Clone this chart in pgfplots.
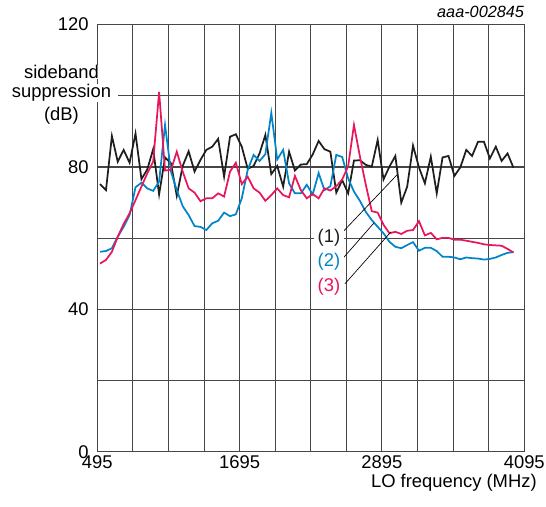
\documentclass[border=0pt]{standalone}
\usepackage{pgfplots}
\pgfplotsset{compat=1.18}
\usepackage{pgfplotstable}
\usepackage{fontspec}
\setmainfont{Liberation Sans}

\definecolor{curveblack}{RGB}{30,30,30}
\definecolor{curveblue}{RGB}{0,133,200}
\definecolor{curvered}{RGB}{232,22,90}
\definecolor{gridgray}{RGB}{70,70,70}

% LO frequency (MHz), sideband suppression (dB) for curves (1) (2) (3)
\pgfplotstableread{
x     c1    c2    c3
518   75.2  56.2  52.9
568   73.5  56.4  53.9
618   88.7  57.2  56.2
667   81.5  60.4  60.4
717   84.8  63.2  64.0
767   81.2  66.5  67.0
817   89.4  74.3  70.7
867   76.6  75.6  74.5
916   79.3  74.0  78.2
966   85.0  73.3  81.5
1016  72.3  75.9  101.1
1066  82.7  91.8  79.0
1116  81.0  78.7  79.2
1165  71.9  73.5  84.3
1215  80.3  69.0  78.7
1265  84.4  66.5  74.0
1315  78.7  63.4  72.8
1365  82.0  63.2  70.4
1414  84.8  62.3  71.2
1464  85.7  64.2  71.2
1514  87.9  64.9  72.6
1564  77.3  67.2  71.7
1614  88.5  66.2  78.7
1663  89.2  66.7  81.2
1713  85.7  71.2  75.2
1763  79.5  79.2  77.3
1813  80.3  83.4  74.0
1863  83.8  81.7  72.8
1912  89.0  83.6  70.5
1962  78.0  95.2  72.1
2012  80.3  82.1  74.0
2062  74.5  84.8  72.1
2112  84.3  75.4  71.5
2161  79.0  72.6  77.5
2211  80.7  72.6  73.5
2261  80.8  75.0  71.2
2311  83.5  72.3  72.4
2361  87.3  78.3  71.2
2410  85.0  73.5  74.0
2460  84.3  74.6  73.4
2510  72.8  83.4  74.6
2560  76.3  82.8  76.5
2610  72.6  76.8  80.2
2659  81.8  73.1  91.8
2709  81.9  70.5  83.0
2759  80.6  67.4  75.0
2809  80.1  65.1  67.6
2859  87.6  63.2  67.2
2908  76.5  61.4  63.8
2958  80.1  59.0  61.4
3008  83.1  57.6  61.8
3058  70.0  57.2  61.2
3108  74.5  58.1  62.1
3157  86.0  58.9  62.3
3207  79.9  56.5  64.8
3257  75.4  57.3  60.8
3307  82.9  57.3  61.5
3357  72.6  56.4  59.7
3406  82.7  54.8  60.1
3456  83.1  54.8  60.1
3506  77.5  54.6  59.6
3556  79.9  54.1  59.6
3606  84.8  54.6  59.3
3655  83.1  54.4  59.0
3705  87.1  54.3  58.7
3755  87.1  54.0  58.3
3805  82.4  54.2  58.1
3855  85.7  54.6  58.0
3904  81.7  55.3  57.9
3954  83.8  55.9  57.0
4004  79.8  56.1  56.0
}\datatable

\begin{document}
\begin{tikzpicture}[font=\fontsize{13.8}{16}\selectfont]
\begin{axis}[
    name=ax,
    scale only axis,
    width=320.25pt,
    height=320.6pt,
    xmin=495, xmax=4095,
    ymin=0, ymax=120,
    xtick={495,1695,2895,4095},
    xticklabels={495,1695,2895,4095},
    minor xtick={795,1095,1395,1995,2295,2595,3195,3495,3795},
    ytick={0,40,80,120},
    yticklabels={0,40,80,120},
    minor ytick={20,60,100},
    grid=both,
    major grid style={draw=gridgray, line width=0.8pt},
    minor grid style={draw=gridgray, line width=0.8pt},
    axis line style={draw=gridgray, line width=0.8pt},
    major tick length=0pt,
    minor tick length=0pt,
    xticklabel style={yshift=0.5pt},
    yticklabel style={xshift=-3pt},
    clip=false,
]
\addplot[curveblack, line width=1.3pt] table[x=x, y=c1] {\datatable};
\addplot[curveblue, line width=1.3pt] table[x=x, y=c2] {\datatable};
\addplot[curvered, line width=1.3pt] table[x=x, y=c3] {\datatable};

% leader lines to the curve labels
\draw[black, line width=0.5pt] (axis cs:2566,61.8) -- (axis cs:3022,77.8);
\draw[black, line width=0.5pt] (axis cs:2575,54.7) -- (axis cs:2828,64.3);
\draw[black, line width=0.5pt] (axis cs:2583,47.2) -- (axis cs:2971,61.8);
\node[fill=white, inner xsep=3pt, inner ysep=1pt, text=curveblack] at (axis cs:2448,60.1) {(1)};
\node[fill=white, inner xsep=3pt, inner ysep=1pt, text=curveblue] at (axis cs:2448,53.3) {(2)};
\node[fill=white, inner xsep=3pt, inner ysep=1pt, text=curvered] at (axis cs:2448,46.3) {(3)};
\end{axis}

% y axis title, line by line on white
\node[fill=white, inner xsep=5pt, inner ysep=0.5pt] at ([xshift=-26.9pt, yshift=-35.6pt]ax.north west) {sideband};
\node[fill=white, inner xsep=5pt, inner ysep=0.5pt] at ([xshift=-26.9pt, yshift=-51.4pt]ax.north west) {suppression};
\node[fill=white, inner xsep=5pt, inner ysep=0.5pt] at ([xshift=-26.9pt, yshift=-68.6pt]ax.north west) {(dB)};

\node[anchor=east, inner sep=0pt] at ([xshift=9.5pt, yshift=-23.3pt]ax.south east) {LO frequency (MHz)};
\node[anchor=east, inner sep=0pt, font=\fontsize{12.2}{14}\itshape] at ([yshift=9.4pt]ax.north east) {aaa-002845};

\pgfresetboundingbox
\path[use as bounding box] ([shift={(-73pt,-41.25pt)}]ax.south west) rectangle ([shift={(16.3pt,18.4pt)}]ax.north east);
\end{tikzpicture}
\end{document}
